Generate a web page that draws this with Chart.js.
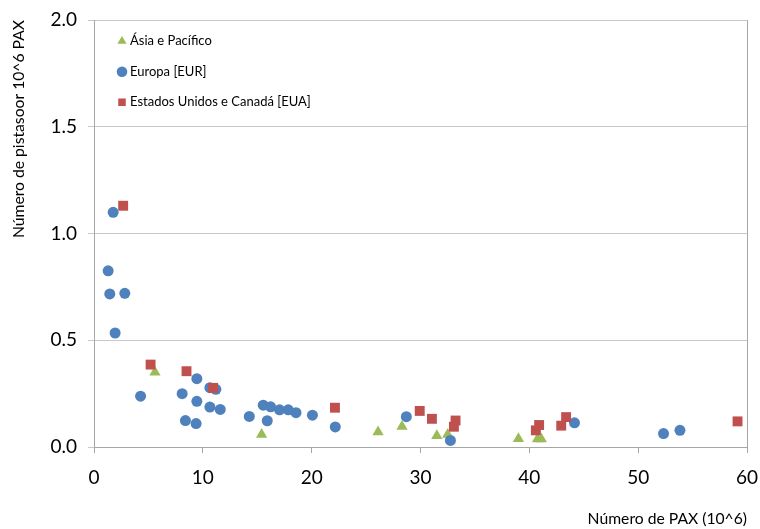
<!DOCTYPE html>
<html>
<head>
<meta charset="utf-8">
<script src="https://cdn.jsdelivr.net/npm/chart.js@4/dist/chart.umd.min.js"></script>
<style>
  html, body { margin: 0; padding: 0; background: #ffffff; }
  #wrap { width: 760px; height: 529px; }
</style>
</head>
<body>
<div id="wrap"><canvas id="c" width="760" height="529"></canvas></div>
<script>
// Passengers (millions) and runways per million passengers, by region
const seriesNames = ['Ásia e Pacífico', 'Europa [EUR]', 'Estados Unidos e Canadá [EUA]'];

const asiaPax     = [5.6, 15.4, 26.1, 28.3, 31.5, 32.5, 39.0, 40.75, 41.1];
const asiaRunways = [0.350, 0.058, 0.070, 0.096, 0.053, 0.059, 0.039, 0.038, 0.038];

const europePax     = [1.76, 1.30, 1.45, 2.83, 1.94, 4.28, 8.1, 9.45, 8.4, 9.38, 9.45, 10.65, 11.2, 10.65, 11.6,
                       14.27, 15.55, 16.23, 17.05, 17.85, 18.56, 15.92, 20.07, 22.17, 28.7, 32.75, 44.15, 52.33, 53.84];
const europeRunways = [1.099, 0.825, 0.717, 0.720, 0.534, 0.238, 0.250, 0.320, 0.124, 0.110, 0.214, 0.278, 0.270, 0.187, 0.176,
                       0.143, 0.196, 0.188, 0.174, 0.174, 0.161, 0.123, 0.149, 0.094, 0.142, 0.031, 0.113, 0.063, 0.078];

const usaPax     = [2.68, 5.2, 8.5, 10.95, 22.14, 29.93, 31.05, 33.22, 33.07, 40.6, 40.9, 42.93, 43.38, 59.13];
const usaRunways = [1.130, 0.386, 0.355, 0.277, 0.184, 0.169, 0.132, 0.124, 0.095, 0.078, 0.103, 0.100, 0.140, 0.120];

const xTicks = [0, 10, 20, 30, 40, 50, 60];
const yTicks = [0.0, 0.5, 1.0, 1.5, 2.0];

const xTitle = 'Número de PAX (10^6)';
const yTitle = 'Número de pistasoor 10^6 PAX';

const toPoints = (xs, ys) => xs.map((x, i) => ({ x: x, y: ys[i] }));

const FONT = 'Lato, "Open Sans", sans-serif';

// Thin frame on the right side of the plot area
const frame = {
  id: 'frame',
  beforeDatasetsDraw(chart) {
    const { ctx, chartArea: a } = chart;
    ctx.save();
    ctx.strokeStyle = '#a6a6a6';
    ctx.lineWidth = 1;
    ctx.beginPath();
    ctx.moveTo(Math.round(a.right) + 0.5, a.top);
    ctx.lineTo(Math.round(a.right) + 0.5, a.bottom);
    ctx.stroke();
    ctx.restore();
  }
};

// Nudge the in-plot legend away from the corner
const legendOffset = {
  id: 'legendOffset',
  afterLayout(chart) {
    if (chart.legend) {
      chart.legend.left += 9;
      chart.legend.top += 17.2;
    }
  }
};

new Chart(document.getElementById('c'), {
  type: 'scatter',
  data: {
    datasets: [
      { label: seriesNames[0], data: toPoints(asiaPax, asiaRunways), pointStyle: 'triangle',
        backgroundColor: '#9bbb59', borderColor: '#9bbb59', borderWidth: 0, pointRadius: 6.5, order: 2 },
      { label: seriesNames[1], data: toPoints(europePax, europeRunways), pointStyle: 'circle',
        backgroundColor: '#4f81bd', borderColor: '#4f81bd', borderWidth: 0, pointRadius: 5.5, order: 1 },
      { label: seriesNames[2], data: toPoints(usaPax, usaRunways), pointStyle: 'rect',
        backgroundColor: '#c0504d', borderColor: '#c0504d', borderWidth: 0, pointRadius: 7, order: 0 }
    ]
  },
  options: {
    responsive: false,
    animation: false,
    devicePixelRatio: 1,
    layout: { padding: { top: 20, right: 13, left: 0, bottom: 0 } },
    plugins: {
      tooltip: { enabled: false },
      legend: {
        position: 'chartArea',
        align: 'start',
        labels: {
          usePointStyle: true,
          boxHeight: 7.5,
          boxWidth: 3,
          padding: 17.5,
          color: '#000000',
          font: { family: FONT, size: 13 },
          sort: (a, b) => a.datasetIndex - b.datasetIndex
        }
      }
    },
    scales: {
      x: {
        type: 'linear',
        min: 0, max: 60,
        afterBuildTicks: (s) => { s.ticks = xTicks.map(v => ({ value: v })); },
        afterFit: (s) => { s.height = 82; s.paddingLeft = 0; s.paddingRight = 0; },
        border: { display: true, color: '#a6a6a6', width: 1 },
        grid: { display: true, drawOnChartArea: false, drawTicks: true, tickLength: 6, color: '#a6a6a6' },
        ticks: { color: '#000000', font: { family: FONT, size: 19 }, padding: 13, maxRotation: 0 },
        title: { display: true, text: xTitle, align: 'end', color: '#000000',
                 font: { family: FONT, size: 15.7 }, padding: { top: 0, bottom: 1 } }
      },
      y: {
        type: 'linear',
        min: 0, max: 2,
        afterBuildTicks: (s) => { s.ticks = yTicks.map(v => ({ value: v })); },
        afterFit: (s) => { s.width = 94; s.paddingTop = 0; s.paddingBottom = 0; },
        border: { display: true, color: '#a6a6a6', width: 1 },
        grid: { display: true, drawOnChartArea: true, drawTicks: true, tickLength: 6, color: '#c8c8c8' },
        ticks: { color: '#000000', font: { family: FONT, size: 19 }, padding: 11,
                 callback: (v) => Number(v).toFixed(1) },
        title: { display: true, text: yTitle, align: 'end', color: '#000000',
                 font: { family: FONT, size: 15.7 }, padding: { top: 10, bottom: 0 } }
      }
    }
  },
  plugins: [frame, legendOffset]
});
</script>
</body>
</html>
